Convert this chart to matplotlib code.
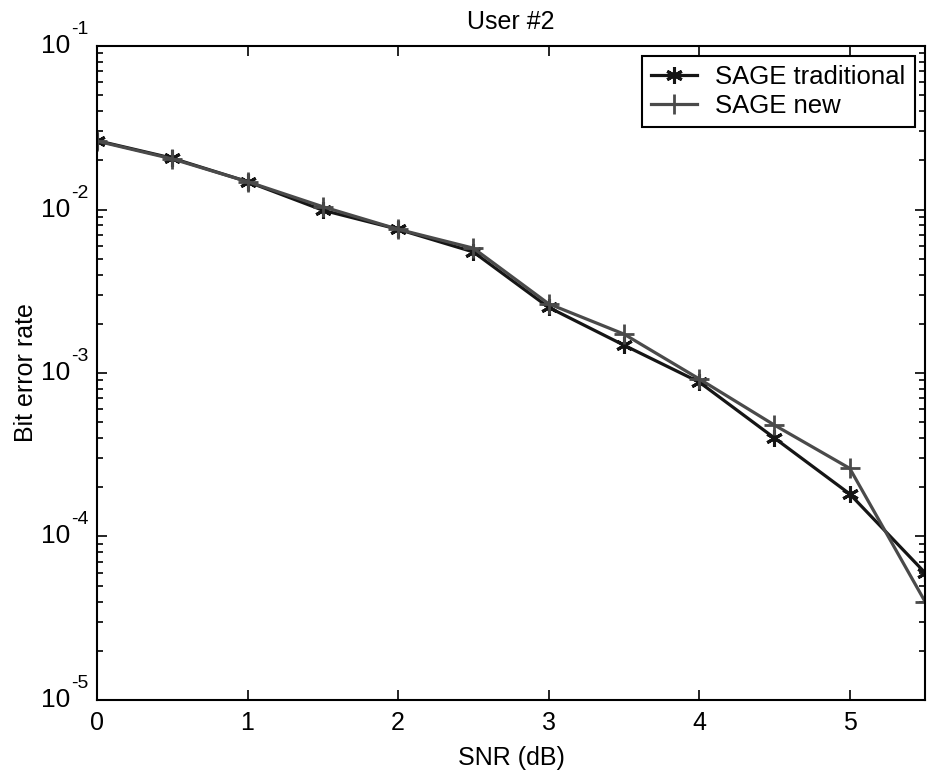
import matplotlib
matplotlib.use("Agg")
import matplotlib.pyplot as plt
from matplotlib.ticker import FixedLocator, LogLocator, NullFormatter
import numpy as np

plt.rcParams['font.family'] = ['Liberation Sans', 'DejaVu Sans']
plt.rcParams['font.size'] = 18

snr = [0, 0.5, 1, 1.5, 2, 2.5, 3, 3.5, 4, 4.5, 5, 5.5]
ber_trad = [0.0264, 0.0206, 0.0148, 0.0099, 0.00757, 0.0055, 0.00252, 0.00148, 0.00088, 0.00040, 0.000182, 0.000060]
ber_new = [0.0262, 0.0204, 0.0148, 0.0104, 0.00757, 0.0058, 0.00265, 0.00173, 0.00092, 0.00048, 0.000261, 0.000040]
decades = [-5, -4, -3, -2, -1]

fig = plt.figure(figsize=(9.29, 7.76), dpi=100)
ax = fig.add_axes([0.1044, 0.098, 0.8913, 0.8427])

asterisk = (6, 2, 0)
ax.semilogy(snr, ber_trad, color="#151515", lw=2.3, marker=asterisk, ms=12, mew=2.2,
            label="SAGE traditional")
ax.semilogy(snr, ber_new, color="#4a4a4a", lw=2.3, marker="+", ms=14, mew=2.0,
            label="SAGE new")

ax.set_xlim(0, 5.5)
ax.set_ylim(1e-5, 1e-1)
ax.xaxis.set_major_locator(FixedLocator([0, 1, 2, 3, 4, 5]))
ax.yaxis.set_major_locator(LogLocator(base=10, numticks=10))
ax.yaxis.set_minor_locator(LogLocator(base=10, subs=np.arange(2, 10), numticks=10))
ax.yaxis.set_minor_formatter(NullFormatter())
ax.yaxis.set_major_formatter(NullFormatter())

# MATLAB-style 10^k labels
for d in decades:
    ax.annotate("10", xy=(0, 10.0 ** d), xycoords=("axes fraction", "data"),
                xytext=(-27, 0), textcoords="offset pixels",
                ha="right", va="center", fontsize=19)
    ax.annotate(str(d), xy=(0, 10.0 ** d), xycoords=("axes fraction", "data"),
                xytext=(-26, 12), textcoords="offset pixels",
                ha="left", va="baseline", fontsize=14)

ax.tick_params(which="both", direction="in", top=True, right=True, width=1.2)
ax.tick_params(which="major", length=7, pad=8)
ax.tick_params(which="minor", length=4)
for s in ax.spines.values():
    s.set_linewidth(1.5)

ax.set_title("User #2", fontsize=18, pad=12)
ax.set_xlabel("SNR (dB)", labelpad=8)
ax.set_ylabel("Bit error rate")
ax.yaxis.set_label_coords(-0.071, 0.5)

leg = ax.legend(loc="upper right", fancybox=False, framealpha=1, edgecolor="black",
                borderaxespad=0.4, handlelength=1.8, handletextpad=0.7,
                borderpad=0.35, labelspacing=0.2, fontsize=18.5)
leg.get_frame().set_linewidth(1.5)

fig.savefig("out.png", dpi=100)
